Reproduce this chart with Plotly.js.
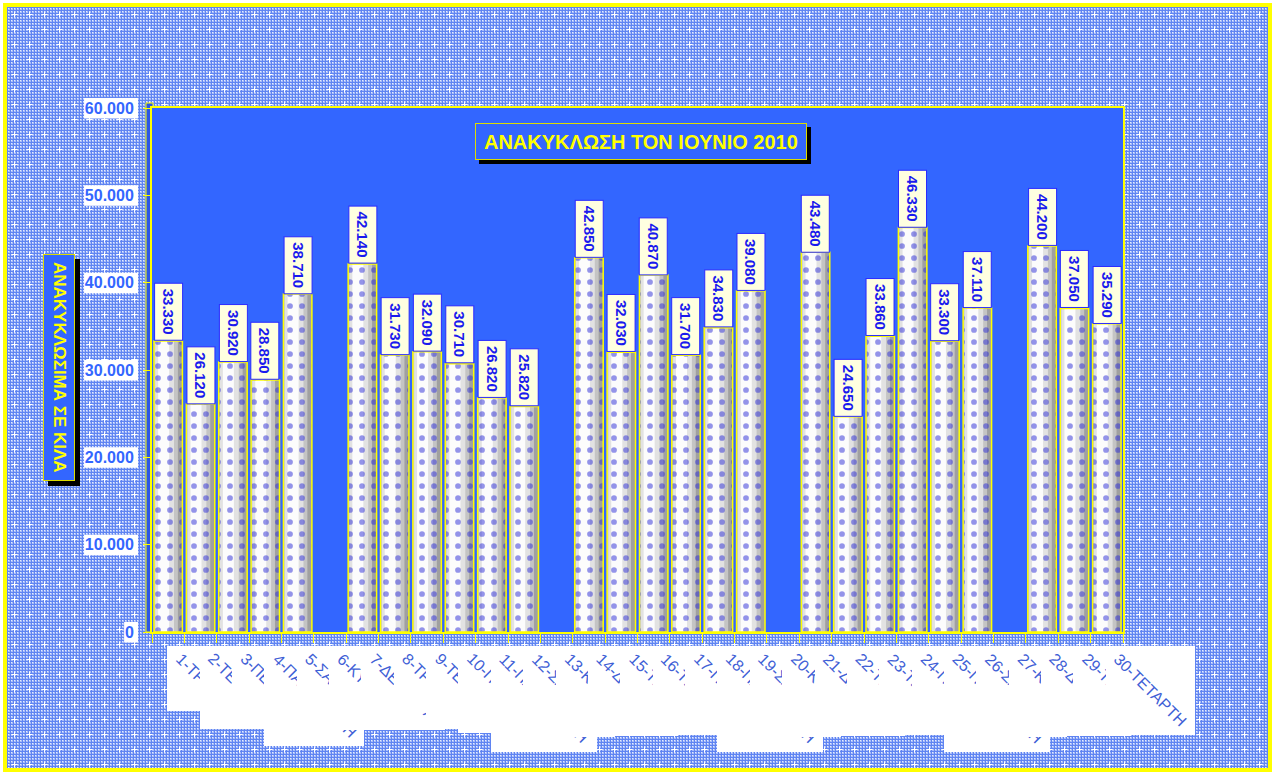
<!DOCTYPE html>
<html><head><meta charset="utf-8">
<script src="https://cdn.plot.ly/plotly-3.0.1.min.js"></script>
<style>html,body{margin:0;padding:0;background:#fff;overflow:hidden}#chart{width:1274px;height:773px}</style>
</head><body><div id="chart"></div>
<script>
// ---- data ----
const days = ['1-ΤΡΙΤΗ','2-ΤΕΤΑΡΤΗ','3-ΠΕΜΠΤΗ','4-ΠΑΡΑΣΚΕΥΗ','5-ΣΑΒΒΑΤΟ','6-ΚΥΡΙΑΚΗ','7-ΔΕΥΤΕΡΑ',
  '8-ΤΡΙΤΗ','9-ΤΕΤΑΡΤΗ','10-ΠΕΜΠΤΗ','11-ΠΑΡΑΣΚΕΥΗ','12-ΣΑΒΒΑΤΟ','13-ΚΥΡΙΑΚΗ','14-ΔΕΥΤΕΡΑ',
  '15-ΤΡΙΤΗ','16-ΤΕΤΑΡΤΗ','17-ΠΕΜΠΤΗ','18-ΠΑΡΑΣΚΕΥΗ','19-ΣΑΒΒΑΤΟ','20-ΚΥΡΙΑΚΗ','21-ΔΕΥΤΕΡΑ',
  '22-ΤΡΙΤΗ','23-ΤΕΤΑΡΤΗ','24-ΠΕΜΠΤΗ','25-ΠΑΡΑΣΚΕΥΗ','26-ΣΑΒΒΑΤΟ','27-ΚΥΡΙΑΚΗ','28-ΔΕΥΤΕΡΑ',
  '29-ΤΡΙΤΗ','30-ΤΕΤΑΡΤΗ'];
const recycledKg = [33330,26120,30920,28850,38710,null,42140,31730,32090,30710,26820,25820,null,42850,
  32030,40870,31700,34830,39080,null,43480,24650,33860,46330,33300,37110,null,44200,37050,35290];
const yTickVals = [0,10000,20000,30000,40000,50000,60000];
const chartTitle = 'ΑΝΑΚΥΚΛΩΣΗ ΤΟΝ ΙΟΥΝΙΟ 2010';
const yTitle = 'ΑΝΑΚΥΚΛΩΣΙΜΑ ΣΕ ΚΙΛΑ';

// ---- layout geometry ----
const W = 1274, H = 773;
const M = {l:152, r:151, t:108, b:141};
const PW = W - M.l - M.r, PH = H - M.t - M.b;
const px2x = px => (px - M.l) / PW;
const px2y = py => (H - M.b - py) / PH;
const FAM = '"Liberation Sans", Arial, sans-serif';
const ctx = document.createElement('canvas').getContext('2d');
const textW = (s, f) => { ctx.font = f; return ctx.measureText(s).width; };
const fmt = v => String(v).replace(/\B(?=(\d{3})+(?!\d))/g, '.');

// ---- patterned background (tile drawn as svg) ----
const FX0 = 7, FY0 = 7, FX1 = 1268, FY1 = 768;
const bgSvg = "<svg xmlns='http://www.w3.org/2000/svg' width='" + (FX1-FX0) + "' height='" + (FY1-FY0) + "'>" +
  "<defs><pattern id='c' width='3' height='3' patternUnits='userSpaceOnUse'>" +
  "<rect width='3' height='3' fill='#5f84f2'/><rect x='1' y='1' width='2' height='2' fill='#a9bdf8'/>" +
  "<rect x='1' y='1' width='1' height='1' fill='#e4ebff'/></pattern>" +
  "<pattern id='p' width='15' height='15' patternUnits='userSpaceOnUse'>" +
  "<path d='M7 5h1v5h-1zM5 7h5v1h-5z' fill='#ffffff'/></pattern></defs>" +
  "<rect width='100%' height='100%' fill='url(#c)'/><rect width='100%' height='100%' fill='url(#p)'/></svg>";
const images = [{source:'data:image/svg+xml;base64,' + btoa(bgSvg), xref:'paper', yref:'paper',
  x:px2x(FX0), y:px2y(FY0), sizex:(FX1-FX0)/PW, sizey:(FY1-FY0)/PH,
  xanchor:'left', yanchor:'top', sizing:'stretch', layer:'below'}];

// ---- bars (cylinder look by overlaying narrower lighter bars) ----
const shades = [
  {w:0.88, o:-0.44, c:'#a0a0a0'},
  {w:0.74, o:-0.44, c:'#c4c4c4'},
  {w:0.58, o:-0.40, c:'#e2e2e2'},
  {w:0.34, o:-0.31, c:'#fcfcfc'}
];
const traces = shades.map(s => ({
  type:'bar', x:days, y:recycledKg, width:s.w, offset:s.o,
  marker:{color:s.c, line:{width:0}}, hoverinfo:'skip', showlegend:false
}));
traces.push({
  type:'bar', x:days, y:recycledKg, width:0.88, offset:-0.44,
  marker:{color:'rgba(0,0,0,0)', line:{color:'#ffff00', width:1.5},
    pattern:{shape:'.', fgcolor:'#2a2ad6', bgcolor:'rgba(0,0,0,0)', size:12, solidity:0.18, fillmode:'overlay'}},
  hoverinfo:'skip', showlegend:false
});

// ---- shapes: frame, plot area, left wall, y tick label boxes ----
const shapes = [];
shapes.push({type:'rect', xref:'paper', yref:'paper', layer:'below',
  x0:px2x(5), x1:px2x(1270), y0:px2y(770), y1:px2y(5),
  fillcolor:'rgba(0,0,0,0)', line:{color:'#ffff00', width:4}});
shapes.push({type:'rect', xref:'paper', yref:'paper', layer:'below',
  x0:px2x(146), x1:px2x(153), y0:0, y1:px2y(103),
  fillcolor:'#2c57e6', line:{color:'#ffff00', width:1}});
shapes.push({type:'rect', xref:'paper', yref:'paper', layer:'below',
  x0:0, x1:1, y0:0, y1:1, fillcolor:'#3366ff', line:{width:0}});
yTickVals.forEach(t => {
  const w = textW(fmt(t), 'bold 16px ' + FAM) + 4;
  shapes.push({type:'rect', xref:'paper', yref:'paper', layer:'below',
    x0:px2x(137 - w), x1:px2x(138), y0:t/60000 - 10.5/PH, y1:t/60000 + 10/PH,
    fillcolor:'#ffffff', line:{width:0}});
});

// ---- annotations ----
const ann = [];
// title with shadow (same explicit box size for both)
const tFont = {family:FAM, size:20, weight:'bold'};
const tW = textW(chartTitle, 'bold 20px ' + FAM) + 8;
const tBox = {xref:'paper', yref:'paper', x:px2x(641), y:px2y(141), xanchor:'center', yanchor:'middle',
  showarrow:false, width:tW, height:27, borderwidth:1, borderpad:4, align:'center', valign:'middle'};
ann.push(Object.assign({}, tBox, {text:' ', bgcolor:'#000', bordercolor:'#000', xshift:4, yshift:-4}));
ann.push(Object.assign({}, tBox, {text:chartTitle, font:Object.assign({}, tFont, {color:'#ffff00'}),
  bgcolor:'#3366ff', bordercolor:'#dcdc00'}));
// y title with shadow
const yW = textW(yTitle, 'bold 17px ' + FAM) + 6;
const yBox = {xref:'paper', yref:'paper', x:px2x(59.5), y:px2y(367.5), xanchor:'center', yanchor:'middle',
  textangle:90, showarrow:false, width:yW, height:22, borderwidth:1, borderpad:4, align:'center', valign:'middle'};
ann.push(Object.assign({}, yBox, {text:' ', bgcolor:'#000', bordercolor:'#000', xshift:5, yshift:-5}));
ann.push(Object.assign({}, yBox, {text:yTitle, font:{family:FAM, size:17, weight:'bold', color:'#ffff00'},
  bgcolor:'#3366ff', bordercolor:'#dcdc00'}));
// value labels
days.forEach((d, i) => {
  const v = recycledKg[i];
  if (v == null) return;
  ann.push({xref:'x', yref:'y', x:d, y:v, xanchor:'center', yanchor:'bottom', text:fmt(v), textangle:90,
    showarrow:false, font:{family:FAM, size:15, weight:'bold', color:'#1a1aee'},
    bgcolor:'#ffffe0', bordercolor:'#2a2aff', borderwidth:1, borderpad:5});
});
// category labels: white box then rotated text, each box covering the previous label's tail
const labFont = '16px ' + FAM;
days.forEach((d, i) => {
  const L = textW(d, labFont);
  const B = (L + 16) * 0.7071 + 11;
  ann.push({xref:'x', yref:'paper', x:d, y:px2y(646), xanchor:'left', yanchor:'top', text:' ',
    width:B, height:B, bgcolor:'#ffffff', borderwidth:0, borderpad:0, showarrow:false, xshift:-1});
  ann.push({xref:'x', yref:'paper', x:d, y:px2y(649), xanchor:'left', yanchor:'top', text:d, textangle:45,
    showarrow:false, font:{family:FAM, size:16, color:'#3f5fd6'}, borderpad:0, xshift:3});
});

const layout = {
  width:W, height:H, margin:M, separators:',.',
  paper_bgcolor:'#ffffff', plot_bgcolor:'rgba(0,0,0,0)',
  barmode:'overlay', showlegend:false, hovermode:false,
  xaxis:{type:'category', categoryorder:'array', categoryarray:days, range:[-0.5, 29.5],
    showticklabels:false, showgrid:false, zeroline:false,
    showline:true, linecolor:'#ffff00', linewidth:2, mirror:true,
    ticks:'outside', tickson:'boundaries', ticklen:9, tickcolor:'#ffff00', tickwidth:1},
  yaxis:{range:[0,60000], tickvals:yTickVals, tickformat:',.0f', showgrid:false, zeroline:false,
    showline:true, linecolor:'#ffff00', linewidth:2, mirror:true,
    ticks:'outside', ticklen:7, tickcolor:'#ffff00', tickwidth:1, ticklabelstandoff:6,
    tickfont:{family:FAM, size:16, weight:'bold', color:'#3366ff'}},
  images:images, shapes:shapes, annotations:ann
};
Plotly.newPlot('chart', traces, layout, {displayModeBar:false, staticPlot:true});
</script></body></html>
